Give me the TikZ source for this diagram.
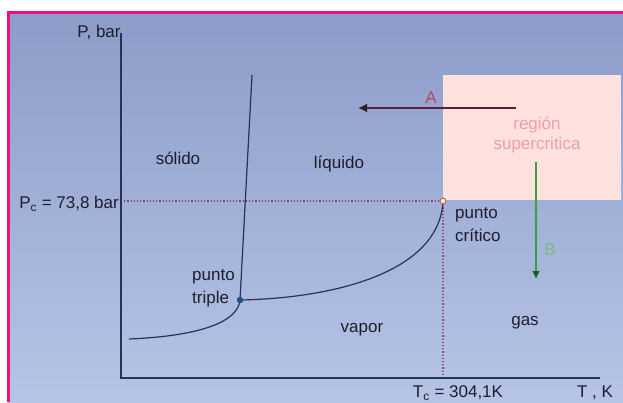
\documentclass[tikz,border=0pt]{standalone}
\usepackage{fontspec}
\setmainfont{Liberation Sans}
\usetikzlibrary{arrows.meta,positioning}

\definecolor{bgtop}{RGB}{140,156,200}
\definecolor{bgbot}{RGB}{182,196,230}
\definecolor{framepink}{RGB}{236,18,132}
\definecolor{curvecol}{RGB}{38,50,88}
\definecolor{textdark}{RGB}{28,30,45}
\definecolor{dotcol}{RGB}{150,60,90}
\definecolor{superbox}{RGB}{255,226,222}
\definecolor{supertext}{RGB}{240,158,165}
\definecolor{arrowA}{RGB}{92,30,60}
\definecolor{labelA}{RGB}{180,70,105}
\definecolor{arrowB}{RGB}{62,155,62}
\definecolor{headB}{RGB}{30,90,30}
\definecolor{labelB}{RGB}{120,190,120}
\definecolor{triplecol}{RGB}{30,78,135}
\definecolor{critcol}{RGB}{190,110,80}

\begin{document}
\begin{tikzpicture}[x=1pt, y=-1pt,
  every node/.style={font=\fontsize{17}{19}\selectfont, inner sep=0pt},
  lbl/.style={text=textdark},
  axis/.style={draw=curvecol, line width=1.2pt},
  curve/.style={draw=curvecol, line width=1.2pt},
  guide/.style={draw=dotcol, line width=1.2pt, dotted},
  frame/.style={draw=framepink, line width=3pt},
  arrowa/.style={draw=arrowA, line width=2pt, -{Latex[length=9pt, width=9pt, color=black!85]}},
  arrowb/.style={draw=arrowB, line width=2.5pt, -{Latex[length=8pt, width=8pt, color=headB]}}
]
\useasboundingbox (0,0) rectangle (623,402);
\fill[white] (0,0) rectangle (623,402);
\shade[top color=bgtop, bottom color=bgbot] (8,12) rectangle (623,402);
\draw[frame] (8,402) -- (8,12) -- (623,12);

% axes
\coordinate (origin) at (121,378);
\coordinate (ytop) at (121,33);
\coordinate (xend) at (600,378);
\node[lbl] (plabel) at (99,32) {P, bar};
\node[lbl] (tlabel) at (595,393) {T , K};

% supercritical region
\fill[superbox] (443,75) rectangle (621,200);
\node[text=supertext] (region) at (537,125) {región};
\node[text=supertext, below=4pt of region] (supercrit) {supercritica};

% points
\coordinate (triple) at (240,300);
\coordinate (crit) at (443,201);
\coordinate (fustop) at (252,75);
\coordinate (sublow) at (129,339);
\coordinate (pcaxis) at (121,201);
\coordinate (tcaxis) at (443,378);

\draw[guide] (pcaxis) -- (crit);
\draw[guide] (crit) -- (tcaxis);
\draw[axis] (ytop) -- (origin) -- (xend);

\node[lbl, anchor=east] (pc) at (119,204) {P\textsubscript{c} = 73,8 bar};
\node[lbl] (tc) at (458,393) {T\textsubscript{c} = 304,1K};

% phase boundaries
\draw[curve] (triple) -- (fustop);
\draw[curve] (sublow) .. controls (200,336) and (238,322) .. (triple);
\draw[curve] (triple) .. controls (340,298) and (440,270) .. (crit);

\fill[triplecol] (triple) circle (3.2);
\filldraw[fill=superbox, draw=critcol, line width=1pt] (crit) circle (3);

% region labels
\node[lbl] (solido) at (178,158) {sólido};
\node[lbl] (liquido) at (339,164) {líquido};
\node[lbl] (vapor) at (362,330) {vapor};
\node[lbl] (gas) at (525,323) {gas};
\node[lbl, anchor=west] (ptriple) at (192,277) {punto};
\node[lbl, below=7pt of ptriple.south west, anchor=north west] (triplelbl) {triple};
\node[lbl, anchor=west] (pcrit) at (455,215) {punto};
\node[lbl, below=6pt of pcrit.south west, anchor=north west] (critlbl) {crítico};

% paths A and B
\coordinate (astart) at (516,108);
\coordinate (aend) at (358,108);
\coordinate (bstart) at (536,162);
\coordinate (bend) at (536,279);
\draw[arrowa] (astart) -- (aend);
\node[text=labelA] (alabel) at (431,98) {A};
\draw[arrowb] (bstart) -- (bend);
\node[text=labelB] (blabel) at (550,250) {B};
\end{tikzpicture}
\end{document}
